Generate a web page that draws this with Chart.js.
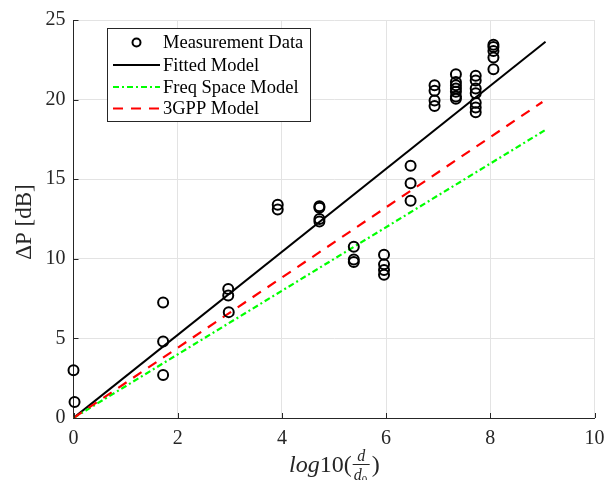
<!DOCTYPE html>
<html><head><meta charset="utf-8">
<script src="https://cdn.jsdelivr.net/npm/chart.js@4"></script>
<style>html,body{margin:0;padding:0;background:#fff}#wrap{width:614px;height:480px}</style>
</head><body><div id="wrap"><canvas id="c" width="614" height="480"></canvas></div>
<script>
// Measurement data
const measX = [0, 0.02, 1.72, 1.72, 1.72, 2.97, 2.97, 2.98, 3.92, 3.92,
  4.72, 4.72, 4.72, 4.72, 5.38, 5.38, 5.38, 5.96, 5.96, 5.96, 5.96,
  6.47, 6.47, 6.47, 6.93, 6.93, 6.93, 6.93,
  7.34, 7.34, 7.34, 7.34, 7.34, 7.34, 7.34,
  7.72, 7.72, 7.72, 7.72, 7.72, 7.72, 7.72,
  8.06, 8.06, 8.06, 8.06, 8.06];
const measY = [3.0, 1.0, 7.25, 4.8, 2.7, 8.1, 7.7, 6.65, 13.4, 13.1,
  13.3, 13.2, 12.5, 12.35, 10.75, 9.95, 9.8, 10.25, 9.65, 9.3, 9.0,
  15.85, 14.75, 13.65, 20.9, 20.55, 19.95, 19.6,
  21.6, 21.1, 20.9, 20.7, 20.5, 20.2, 20.05,
  21.5, 21.2, 20.7, 20.4, 19.8, 19.5, 19.2,
  23.45, 23.3, 23.05, 22.65, 21.9];
// Model lines (endpoints)
const fitX = [0, 9.06];   const fitY = [0, 23.63];
const freqX = [0, 9.06];  const freqY = [0, 18.1];
const gppX = [0, 9.0];    const gppY = [0, 19.85];
const seriesLabels = ['Measurement Data', 'Fitted Model', 'Freq Space Model', '3GPP Model'];
const xTicks = [0, 2, 4, 6, 8, 10];
const yTicks = [0, 5, 10, 15, 20, 25];

const SERIF = '"Liberation Serif", "DejaVu Serif", serif';
const toPts = (xs, ys) => xs.map((x, i) => ({x: x, y: ys[i]}));

const L = 73.5, R = 594.5, T = 16, B = 418;

const layoutPlugin = {
  id: 'extras',
  afterDraw(chart) {
    const ctx = chart.ctx;
    const xs = chart.scales.x, ys = chart.scales.y;
    ctx.save();
    // inward ticks
    ctx.strokeStyle = '#262626'; ctx.lineWidth = 1;
    xTicks.forEach(v => { const px = Math.round(xs.getPixelForValue(v)) + 0.5;
      ctx.beginPath(); ctx.moveTo(px, ys.bottom); ctx.lineTo(px, ys.bottom - 5); ctx.stroke(); });
    yTicks.forEach(v => { const py = Math.round(ys.getPixelForValue(v)) + 0.5;
      ctx.beginPath(); ctx.moveTo(xs.left, py); ctx.lineTo(xs.left + 5, py); ctx.stroke(); });
    // y title
    ctx.fillStyle = '#262626';
    ctx.font = '23px ' + SERIF;
    ctx.textAlign = 'center'; ctx.textBaseline = 'middle';
    ctx.translate(25, (ys.top + ys.bottom) / 2 + 3);
    ctx.rotate(-Math.PI / 2);
    ctx.fillText('\u0394P [dB]', 0, 0);
    ctx.restore();

    // x title: log10(d/d0)
    ctx.save();
    ctx.fillStyle = '#262626';
    ctx.textBaseline = 'alphabetic'; ctx.textAlign = 'left';
    let x = 289, base = 472;
    ctx.font = 'italic 24px ' + SERIF;
    ctx.fillText('log', x, base); x += ctx.measureText('log').width;
    ctx.font = '24px ' + SERIF;
    ctx.fillText('10(', x, base); x += ctx.measureText('10(').width + 1;
    // fraction
    const fx0 = x, fw = 17;
    ctx.fillRect(fx0, base - 8, fw, 1);
    ctx.font = 'italic 16px ' + SERIF;
    ctx.textAlign = 'center';
    ctx.fillText('d', fx0 + fw / 2, base - 11);
    ctx.textAlign = 'left';
    ctx.fillText('d', fx0 + 1, base + 8);
    const dw = ctx.measureText('d').width;
    ctx.font = '11px ' + SERIF;
    ctx.fillText('0', fx0 + 1 + dw, base + 11);
    x = fx0 + fw + 2;
    ctx.font = '24px ' + SERIF;
    ctx.fillText(')', x, base);
    ctx.restore();

    // legend
    ctx.save();
    const bx = 107.5, by = 28.5, bw = 203, bh = 93;
    ctx.fillStyle = '#fff'; ctx.fillRect(bx, by, bw, bh);
    ctx.strokeStyle = '#262626'; ctx.lineWidth = 1; ctx.strokeRect(bx, by, bw, bh);
    const rows = [42.5, 65, 87, 108.5];
    const ds = chart.data.datasets;
    ctx.font = '18.5px ' + SERIF; ctx.fillStyle = '#000';
    ctx.textAlign = 'left'; ctx.textBaseline = 'middle';
    ds.forEach((d, i) => {
      const ry = rows[i];
      if (i === 0) {
        ctx.beginPath(); ctx.arc(136.5, ry, 4, 0, Math.PI * 2);
        ctx.lineWidth = 2; ctx.strokeStyle = d.borderColor; ctx.setLineDash([]); ctx.stroke();
      } else {
        ctx.beginPath(); ctx.moveTo(113, ry); ctx.lineTo(160, ry);
        ctx.lineWidth = 2; ctx.strokeStyle = d.borderColor; ctx.setLineDash(d.borderDash || []); ctx.stroke();
        ctx.setLineDash([]);
      }
      ctx.fillStyle = '#000';
      ctx.fillText(d.label, 163, ry + 1);
    });
    ctx.restore();
  }
};

new Chart(document.getElementById('c'), {
  type: 'scatter',
  data: {
    datasets: [
      { label: seriesLabels[0], data: toPts(measX, measY), showLine: false, clip: false,
        pointStyle: 'circle', pointRadius: 5, borderColor: '#000', borderWidth: 2,
        backgroundColor: 'rgba(0,0,0,0)', order: 0 },
      { label: seriesLabels[1], data: toPts(fitX, fitY), showLine: true, pointRadius: 0,
        borderColor: '#000', borderWidth: 2, order: 3 },
      { label: seriesLabels[2], data: toPts(freqX, freqY), showLine: true, pointRadius: 0,
        borderColor: '#00ff00', borderWidth: 2.2, borderDash: [6, 3, 2, 3], order: 2 },
      { label: seriesLabels[3], data: toPts(gppX, gppY), showLine: true, pointRadius: 0,
        borderColor: '#ff0000', borderWidth: 2.2, borderDash: [10, 8], order: 1 }
    ]
  },
  options: {
    responsive: false, animation: false, devicePixelRatio: 1,
    layout: { padding: { top: T, right: 614 - R, left: 0, bottom: 0 } },
    plugins: { legend: { display: false }, tooltip: { enabled: false } },
    scales: {
      x: {
        type: 'linear', min: 0, max: 10,
        afterBuildTicks: s => { s.ticks = xTicks.map(v => ({value: v})); },
        afterFit: s => { s.height = 480 - B; },
        grid: { color: '#e3e3e3', drawTicks: false, lineWidth: 1 },
        border: { color: '#262626', width: 1 },
        ticks: { padding: 9, color: '#262626', font: { family: SERIF, size: 20 } }
      },
      y: {
        type: 'linear', min: 0, max: 25,
        afterBuildTicks: s => { s.ticks = yTicks.map(v => ({value: v})); },
        afterFit: s => { s.width = L; },
        grid: { color: '#e3e3e3', drawTicks: false, lineWidth: 1 },
        border: { color: '#262626', width: 1 },
        ticks: { padding: 8, color: '#262626', font: { family: SERIF, size: 20 } }
      }
    }
  },
  plugins: [layoutPlugin]
});
</script></body></html>
